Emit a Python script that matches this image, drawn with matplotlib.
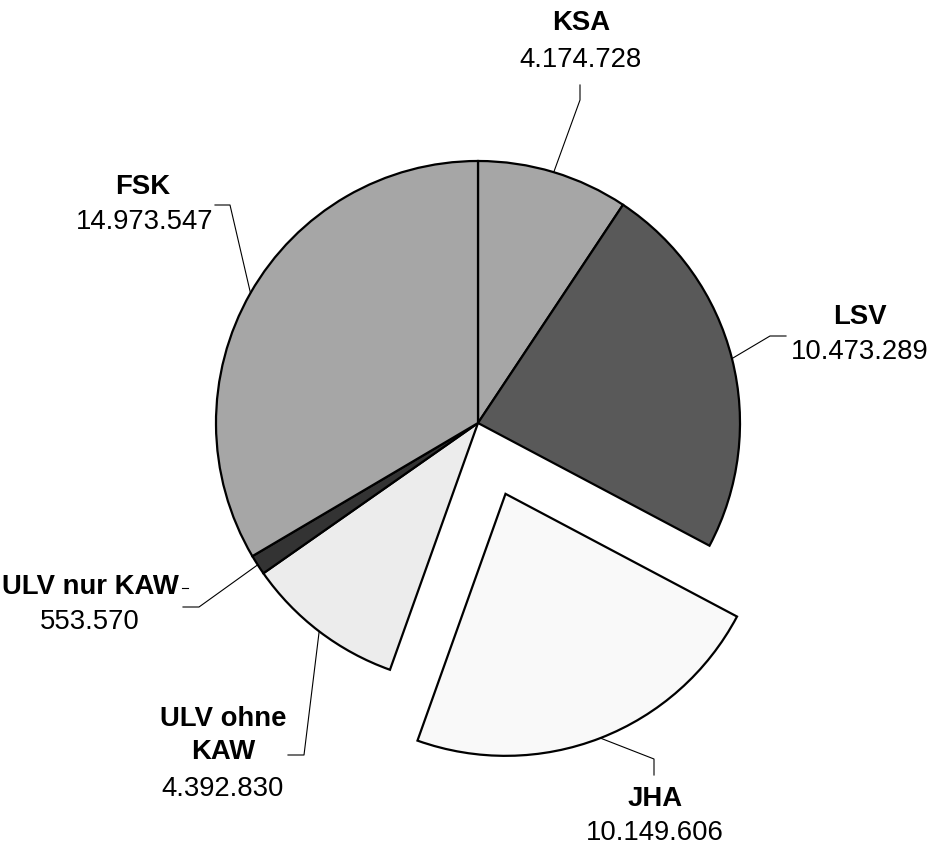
import numpy as np
import matplotlib.pyplot as plt

# data
names = ['KSA', 'LSV', 'JHA', 'ULV ohne\nKAW', 'ULV nur KAW', 'FSK']
values = [4174728, 10473289, 10149606, 4392830, 553570, 14973547]
colors = ['#a6a6a6', '#595959', '#f9f9f9', '#ececec', '#333333', '#a6a6a6']
explode = [0, 0, 76, 0, 0, 0]

W, H = 933, 847
plt.rcParams['font.family'] = ['Liberation Sans', 'DejaVu Sans']
FS = 19.8

fig = plt.figure(figsize=(W / 100, H / 100), dpi=100)
ax = fig.add_axes([0, 0, 1, 1])

cx, cy, r = 478, H - 423, 262
wedges, _ = ax.pie(values, startangle=90, counterclock=False, radius=r,
                   center=(cx, cy), explode=explode, colors=colors,
                   wedgeprops=dict(edgecolor='black', linewidth=1.6))

# label layout in pixel coords: elbow, end of leader, name x, name y, value x, value y
layout = [
    ((580, 100), (580, 85), 581, 23, 581, 60),
    ((770, 336), (786, 336), 860, 317, 860, 352),
    ((654, 759), (654, 775), 655, 799, 655, 833),
    ((304, 755), (288, 755), 223, 735, 223, 789),
    ((199, 607), (183, 607), 90, 587, 90, 622),
    ((230, 205), (215, 205), 143, 187, 145, 222),
]

for w, name, v, (elb, end, nx, ny, vx, vy) in zip(wedges, names, values, layout):
    mid = np.deg2rad((w.theta1 + w.theta2) / 2)
    x0 = w.center[0] + r * np.cos(mid)
    y0 = w.center[1] + r * np.sin(mid)
    ax.plot([x0, elb[0], end[0]], [y0, H - elb[1], H - end[1]],
            color='black', lw=0.8)
    ax.text(nx, H - ny, name, ha='center', va='center', fontsize=FS,
            fontweight='bold', linespacing=1.35)
    ax.text(vx, H - vy, f'{v:,}'.replace(',', '.'), ha='center',
            va='center', fontsize=FS)

# small dash after "ULV nur KAW"
ax.plot([182, 188], [H - 588, H - 588], color='black', lw=0.8)

ax.set_xlim(0, W)
ax.set_ylim(0, H)
ax.set_aspect('equal')
ax.axis('off')
fig.savefig('out.png', dpi=100, facecolor='white')
